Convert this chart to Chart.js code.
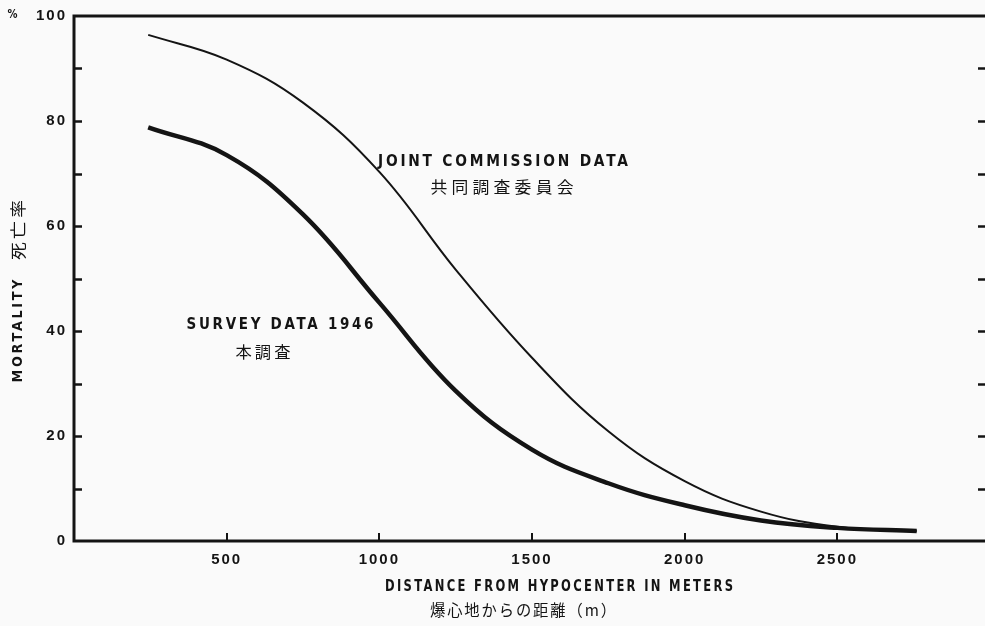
<!DOCTYPE html>
<html>
<head>
<meta charset="utf-8">
<title>Mortality vs distance from hypocenter</title>
<script src="https://cdn.jsdelivr.net/npm/chart.js@4"></script>
<style>
  html, body { margin: 0; padding: 0; background: #fafafa; overflow: hidden; }
  canvas { display: block; }
</style>
</head>
<body>
<canvas id="c" width="1000" height="626"></canvas>
<script>
// Distance from hypocenter (m) at which each curve was read
const distances = [243, 500, 750, 1000, 1250, 1500, 1750, 2000, 2250, 2500, 2760];
// Mortality (%) — Joint Commission data (thin curve)
const jointCommission = [96.4, 91.7, 83.5, 70.3, 51.7, 34.9, 20.9, 11.4, 5.6, 2.7, 1.9];
// Mortality (%) — 1946 survey data (thick curve)
const survey1946 = [78.8, 73.5, 62.2, 45.4, 28.6, 17.4, 11.0, 6.8, 3.9, 2.5, 1.9];

// Axis ranges and tick steps
const xRange = [0, 3000];
const xStep = 500;
const yRange = [0, 100];
const yStep = 10;
const yLabelEvery = 20;

// Text
const jointLabelEn = 'JOINT COMMISSION DATA';
const jointLabelJa = '共同調査委員会';
const surveyLabelEn = 'SURVEY DATA 1946';
const surveyLabelJa = '本調査';
const xTitleEn = 'DISTANCE FROM HYPOCENTER IN METERS';
const xTitleJa = '爆心地からの距離（m）';
const yTitleEn = 'MORTALITY';
const yTitleJa = '死亡率';
const yUnit = '%';

const INK = '#141414';

function points(xs, ys) {
  return xs.map((x, i) => ({ x: x, y: ys[i] }));
}

// Draw a string centred on (cx, cy), letter-spaced and stretched to a given width
function spacedText(ctx, str, cx, cy, width, font, spacing, angle) {
  ctx.save();
  ctx.font = font;
  ctx.letterSpacing = spacing + 'px';
  const w = ctx.measureText(str).width - spacing;
  ctx.translate(cx, cy);
  if (angle) ctx.rotate(angle);
  ctx.scale(width / w, 1);
  ctx.textAlign = 'left';
  ctx.textBaseline = 'middle';
  ctx.fillStyle = INK;
  ctx.fillText(str, -w / 2, 0);
  ctx.restore();
}

const spacedTicks = {
  id: 'spacedTicks',
  beforeDraw(chart) { chart.ctx.letterSpacing = '2px'; },
  afterDraw(chart) { chart.ctx.letterSpacing = '0px'; }
};

const frame = {
  id: 'frame',
  afterDraw(chart) {
    const ctx = chart.ctx;
    const a = chart.chartArea;
    const xs = chart.scales.x, ys = chart.scales.y;
    ctx.save();
    ctx.letterSpacing = '0px';
    ctx.strokeStyle = INK;
    ctx.lineWidth = 3;
    ctx.strokeRect(a.left, a.top, a.right - a.left, a.bottom - a.top);

    // inward tick marks
    ctx.lineWidth = 2.5;
    ys.ticks.forEach(t => {
      if (t.value <= yRange[0] || t.value >= yRange[1]) return;
      const py = Math.round(ys.getPixelForValue(t.value)) + 0.5;
      ctx.beginPath();
      ctx.moveTo(a.left, py); ctx.lineTo(a.left + 8, py);
      ctx.moveTo(a.right, py); ctx.lineTo(a.right - 12, py);
      ctx.stroke();
    });
    ctx.lineWidth = 2;
    xs.ticks.forEach(t => {
      if (t.value <= xRange[0] || t.value >= xRange[1]) return;
      const px = Math.round(xs.getPixelForValue(t.value));
      ctx.beginPath();
      ctx.moveTo(px, a.bottom); ctx.lineTo(px, a.bottom - 8);
      ctx.stroke();
    });
    ctx.restore();

    // curve labels
    spacedText(ctx, jointLabelEn, 503, 162, 250, 'bold 15px "DejaVu Sans"', 3);
    spacedText(ctx, jointLabelJa, 502, 187, 143, '16px "Noto Sans CJK JP"', 4);
    spacedText(ctx, surveyLabelEn, 280, 325, 187, 'bold 15px "DejaVu Sans"', 3);
    spacedText(ctx, surveyLabelJa, 263, 352, 55, '16px "Noto Sans CJK JP"', 3);

    // axis titles
    spacedText(ctx, xTitleEn, 559, 587, 348, 'bold 15px "DejaVu Sans"', 3);
    spacedText(ctx, xTitleJa, 523, 610, 186, '16px "Noto Sans CJK JP"', 2);
    spacedText(ctx, yTitleEn, 18, 331, 103, 'bold 14px "DejaVu Sans"', 3, -Math.PI / 2);
    spacedText(ctx, yTitleJa, 18, 230, 60, '16px "Noto Sans CJK JP"', 3, -Math.PI / 2);
    spacedText(ctx, yUnit, 12.5, 15, 10, 'bold 13px "DejaVu Sans"', 0);
  }
};

new Chart(document.getElementById('c'), {
  type: 'line',
  data: {
    datasets: [
      {
        label: jointLabelEn,
        data: points(distances, jointCommission),
        borderColor: INK,
        borderWidth: 2,
        pointRadius: 0,
        tension: 0.4,
        fill: false
      },
      {
        label: surveyLabelEn,
        data: points(distances, survey1946),
        borderColor: INK,
        borderWidth: 4.5,
        pointRadius: 0,
        tension: 0.4,
        fill: false
      }
    ]
  },
  options: {
    responsive: false,
    animation: false,
    devicePixelRatio: 1,
    layout: { padding: { top: 12, right: 8, left: 0, bottom: 0 } },
    plugins: { legend: { display: false }, tooltip: { enabled: false } },
    scales: {
      x: {
        type: 'linear',
        min: xRange[0], max: xRange[1],
        border: { display: false },
        grid: { drawOnChartArea: false, drawTicks: false },
        ticks: {
          stepSize: xStep,
          autoSkip: false,
          maxRotation: 0,
          padding: 10,
          color: INK,
          font: { family: '"Liberation Sans"', size: 15, weight: 'bold' },
          callback: v => (v <= xRange[0] || v >= xRange[1]) ? '' : String(v)
        },
        afterFit(scale) { scale.height = 85; }
      },
      y: {
        min: yRange[0], max: yRange[1],
        border: { display: false },
        grid: { drawOnChartArea: false, drawTicks: false },
        ticks: {
          stepSize: yStep,
          autoSkip: false,
          padding: 7,
          color: INK,
          font: { family: '"Liberation Sans"', size: 15, weight: 'bold' },
          callback: v => (v % yLabelEvery === 0) ? String(v) : ''
        },
        afterFit(scale) { scale.width = 74; }
      }
    }
  },
  plugins: [spacedTicks, frame]
});
</script>
</body>
</html>
